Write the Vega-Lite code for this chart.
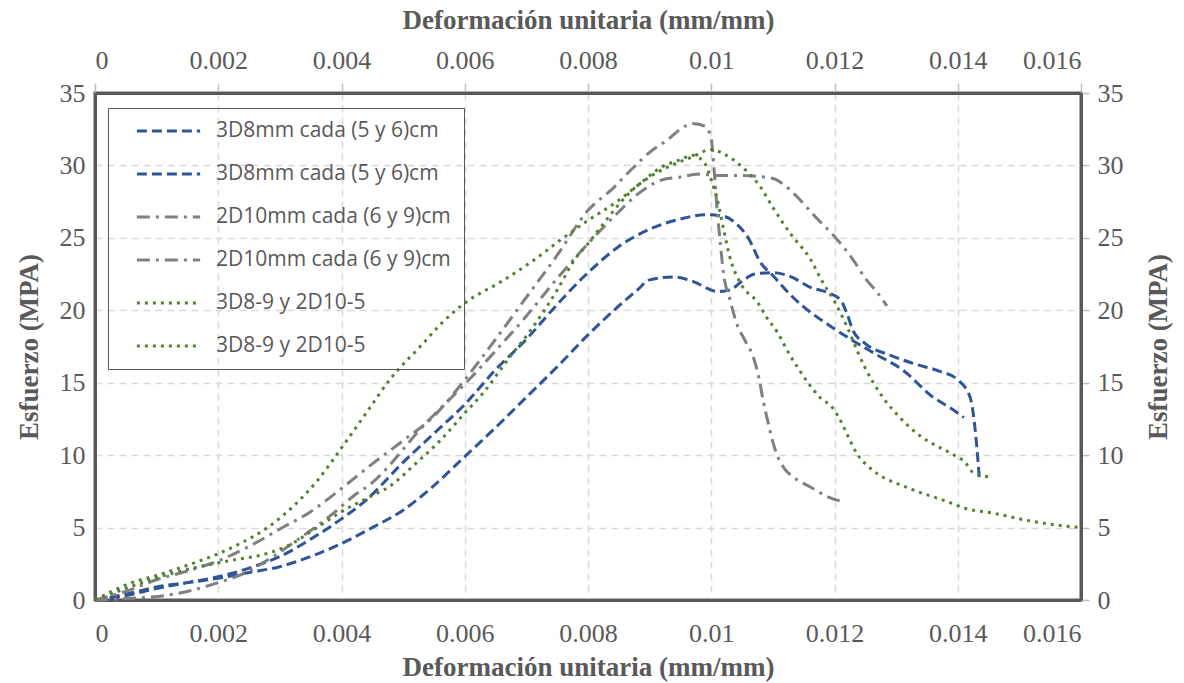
{
  "$schema": "https://vega.github.io/schema/vega-lite/v6.json",
  "autosize": {"type": "none"},
  "width": 986,
  "height": 507,
  "padding": {"left": 95, "top": 93, "right": 103, "bottom": 83},
  "background": "white",
  "config": {
    "view": {"stroke": "#595959", "strokeWidth": 3},
    "axis": {
      "labelFont": "Liberation Serif",
      "labelFontSize": 26,
      "labelColor": "#595959",
      "titleFont": "Liberation Serif",
      "titleFontSize": 27,
      "titleFontWeight": "bold",
      "titleColor": "#595959",
      "domain": true,
      "domainColor": "#595959",
      "domainWidth": 3,
      "tickColor": "#BFBFBF",
      "tickWidth": 1.5
    }
  },
  "datasets": {
    "curves": [
      {"s": "s1", "x": 0, "y": 0}, {"s": "s1", "x": 0.0005, "y": 0.3}, {"s": "s1", "x": 0.001, "y": 0.8}, {"s": "s1", "x": 0.0015, "y": 1.2}, {"s": "s1", "x": 0.002, "y": 1.6}, {"s": "s1", "x": 0.0025, "y": 2.2}, {"s": "s1", "x": 0.003, "y": 3.0}, {"s": "s1", "x": 0.0035, "y": 4.2}, {"s": "s1", "x": 0.004, "y": 5.6}, {"s": "s1", "x": 0.0044, "y": 6.9}, {"s": "s1", "x": 0.005, "y": 9.5}, {"s": "s1", "x": 0.0055, "y": 11.5}, {"s": "s1", "x": 0.006, "y": 13.5}, {"s": "s1", "x": 0.0065, "y": 15.9}, {"s": "s1", "x": 0.007, "y": 18.0}, {"s": "s1", "x": 0.0075, "y": 20.4}, {"s": "s1", "x": 0.008, "y": 22.6}, {"s": "s1", "x": 0.0085, "y": 24.4}, {"s": "s1", "x": 0.009, "y": 25.6}, {"s": "s1", "x": 0.0095, "y": 26.3}, {"s": "s1", "x": 0.0099, "y": 26.6}, {"s": "s1", "x": 0.0102, "y": 26.5}, {"s": "s1", "x": 0.0104, "y": 26.0}, {"s": "s1", "x": 0.0106, "y": 25.0}, {"s": "s1", "x": 0.0108, "y": 23.3}, {"s": "s1", "x": 0.011, "y": 22.4}, {"s": "s1", "x": 0.0113, "y": 21.0}, {"s": "s1", "x": 0.0116, "y": 19.9}, {"s": "s1", "x": 0.0119, "y": 19.0}, {"s": "s1", "x": 0.0123, "y": 17.9}, {"s": "s1", "x": 0.0127, "y": 16.9}, {"s": "s1", "x": 0.0131, "y": 15.9}, {"s": "s1", "x": 0.0136, "y": 14.0}, {"s": "s1", "x": 0.0139, "y": 13.2}, {"s": "s1", "x": 0.0141, "y": 12.6},

      {"s": "s2", "x": 0, "y": 0}, {"s": "s2", "x": 0.0005, "y": 0.4}, {"s": "s2", "x": 0.001, "y": 0.9}, {"s": "s2", "x": 0.0015, "y": 1.2}, {"s": "s2", "x": 0.002, "y": 1.5}, {"s": "s2", "x": 0.0025, "y": 1.9}, {"s": "s2", "x": 0.003, "y": 2.3}, {"s": "s2", "x": 0.0035, "y": 3.0}, {"s": "s2", "x": 0.004, "y": 3.9}, {"s": "s2", "x": 0.0045, "y": 5.0}, {"s": "s2", "x": 0.005, "y": 6.2}, {"s": "s2", "x": 0.0055, "y": 7.9}, {"s": "s2", "x": 0.006, "y": 9.9}, {"s": "s2", "x": 0.0065, "y": 11.9}, {"s": "s2", "x": 0.007, "y": 14.0}, {"s": "s2", "x": 0.0075, "y": 16.1}, {"s": "s2", "x": 0.008, "y": 18.3}, {"s": "s2", "x": 0.0085, "y": 20.3}, {"s": "s2", "x": 0.0088, "y": 21.4}, {"s": "s2", "x": 0.009, "y": 22.1}, {"s": "s2", "x": 0.0094, "y": 22.3}, {"s": "s2", "x": 0.0097, "y": 22.0}, {"s": "s2", "x": 0.0101, "y": 21.3}, {"s": "s2", "x": 0.0103, "y": 21.4}, {"s": "s2", "x": 0.0105, "y": 22.0}, {"s": "s2", "x": 0.0107, "y": 22.5}, {"s": "s2", "x": 0.011, "y": 22.6}, {"s": "s2", "x": 0.0113, "y": 22.3}, {"s": "s2", "x": 0.0116, "y": 21.6}, {"s": "s2", "x": 0.0119, "y": 21.2}, {"s": "s2", "x": 0.0121, "y": 20.7}, {"s": "s2", "x": 0.0122, "y": 19.8}, {"s": "s2", "x": 0.0123, "y": 18.6}, {"s": "s2", "x": 0.0125, "y": 17.7}, {"s": "s2", "x": 0.0129, "y": 16.9}, {"s": "s2", "x": 0.0133, "y": 16.3}, {"s": "s2", "x": 0.0137, "y": 15.8}, {"s": "s2", "x": 0.014, "y": 15.2}, {"s": "s2", "x": 0.0142, "y": 14.0}, {"s": "s2", "x": 0.0143, "y": 11.0}, {"s": "s2", "x": 0.01435, "y": 8.4},

      {"s": "s3", "x": 0, "y": 0}, {"s": "s3", "x": 0.0005, "y": 0.6}, {"s": "s3", "x": 0.001, "y": 1.4}, {"s": "s3", "x": 0.0015, "y": 2.0}, {"s": "s3", "x": 0.002, "y": 2.7}, {"s": "s3", "x": 0.0025, "y": 3.7}, {"s": "s3", "x": 0.003, "y": 4.9}, {"s": "s3", "x": 0.0035, "y": 6.1}, {"s": "s3", "x": 0.004, "y": 7.7}, {"s": "s3", "x": 0.0045, "y": 9.4}, {"s": "s3", "x": 0.005, "y": 11.0}, {"s": "s3", "x": 0.0055, "y": 12.7}, {"s": "s3", "x": 0.006, "y": 15.2}, {"s": "s3", "x": 0.0065, "y": 18.0}, {"s": "s3", "x": 0.007, "y": 20.9}, {"s": "s3", "x": 0.0075, "y": 23.8}, {"s": "s3", "x": 0.008, "y": 26.9}, {"s": "s3", "x": 0.0084, "y": 28.4}, {"s": "s3", "x": 0.0087, "y": 29.7}, {"s": "s3", "x": 0.009, "y": 30.9}, {"s": "s3", "x": 0.0093, "y": 31.8}, {"s": "s3", "x": 0.0095, "y": 32.5}, {"s": "s3", "x": 0.0097, "y": 32.9}, {"s": "s3", "x": 0.0099, "y": 32.7}, {"s": "s3", "x": 0.01, "y": 31.8}, {"s": "s3", "x": 0.01005, "y": 29.5}, {"s": "s3", "x": 0.0101, "y": 26.7}, {"s": "s3", "x": 0.01015, "y": 24.5}, {"s": "s3", "x": 0.0102, "y": 22.5}, {"s": "s3", "x": 0.0103, "y": 20.8}, {"s": "s3", "x": 0.01042, "y": 19.0}, {"s": "s3", "x": 0.01055, "y": 17.9}, {"s": "s3", "x": 0.01068, "y": 16.8}, {"s": "s3", "x": 0.01078, "y": 15.2}, {"s": "s3", "x": 0.01085, "y": 13.6}, {"s": "s3", "x": 0.01092, "y": 12.3}, {"s": "s3", "x": 0.011, "y": 10.9}, {"s": "s3", "x": 0.01108, "y": 9.9}, {"s": "s3", "x": 0.0112, "y": 9.0}, {"s": "s3", "x": 0.01133, "y": 8.5}, {"s": "s3", "x": 0.01165, "y": 7.7}, {"s": "s3", "x": 0.0119, "y": 7.1}, {"s": "s3", "x": 0.01212, "y": 6.8},

      {"s": "s4", "x": 0, "y": 0}, {"s": "s4", "x": 0.0005, "y": 0.1}, {"s": "s4", "x": 0.0009, "y": 0.2}, {"s": "s4", "x": 0.0012, "y": 0.35}, {"s": "s4", "x": 0.0016, "y": 0.7}, {"s": "s4", "x": 0.002, "y": 1.2}, {"s": "s4", "x": 0.0024, "y": 1.8}, {"s": "s4", "x": 0.0027, "y": 2.5}, {"s": "s4", "x": 0.003, "y": 3.3}, {"s": "s4", "x": 0.0033, "y": 4.2}, {"s": "s4", "x": 0.0036, "y": 5.1}, {"s": "s4", "x": 0.0039, "y": 6.1}, {"s": "s4", "x": 0.0042, "y": 7.2}, {"s": "s4", "x": 0.0045, "y": 8.1}, {"s": "s4", "x": 0.0048, "y": 9.4}, {"s": "s4", "x": 0.005, "y": 10.4}, {"s": "s4", "x": 0.0053, "y": 11.9}, {"s": "s4", "x": 0.0056, "y": 13.2}, {"s": "s4", "x": 0.006, "y": 14.9}, {"s": "s4", "x": 0.0065, "y": 17.2}, {"s": "s4", "x": 0.007, "y": 19.6}, {"s": "s4", "x": 0.0075, "y": 22.2}, {"s": "s4", "x": 0.008, "y": 24.6}, {"s": "s4", "x": 0.0085, "y": 26.8}, {"s": "s4", "x": 0.0088, "y": 28.0}, {"s": "s4", "x": 0.0092, "y": 29.0}, {"s": "s4", "x": 0.0095, "y": 29.2}, {"s": "s4", "x": 0.0098, "y": 29.4}, {"s": "s4", "x": 0.0101, "y": 29.3}, {"s": "s4", "x": 0.0105, "y": 29.3}, {"s": "s4", "x": 0.011, "y": 29.1}, {"s": "s4", "x": 0.0112, "y": 28.6}, {"s": "s4", "x": 0.0114, "y": 27.8}, {"s": "s4", "x": 0.0117, "y": 26.4}, {"s": "s4", "x": 0.012, "y": 25.1}, {"s": "s4", "x": 0.0123, "y": 23.5}, {"s": "s4", "x": 0.0125, "y": 22.2}, {"s": "s4", "x": 0.0127, "y": 21.2}, {"s": "s4", "x": 0.01285, "y": 20.3},

      {"s": "s5", "x": 0, "y": 0}, {"s": "s5", "x": 0.0006, "y": 1.2}, {"s": "s5", "x": 0.001, "y": 1.7}, {"s": "s5", "x": 0.0015, "y": 2.4}, {"s": "s5", "x": 0.002, "y": 3.2}, {"s": "s5", "x": 0.0024, "y": 4.0}, {"s": "s5", "x": 0.0028, "y": 5.0}, {"s": "s5", "x": 0.0032, "y": 6.4}, {"s": "s5", "x": 0.0036, "y": 8.2}, {"s": "s5", "x": 0.004, "y": 10.5}, {"s": "s5", "x": 0.0044, "y": 12.9}, {"s": "s5", "x": 0.0048, "y": 15.3}, {"s": "s5", "x": 0.0053, "y": 17.6}, {"s": "s5", "x": 0.0056, "y": 19.0}, {"s": "s5", "x": 0.006, "y": 20.5}, {"s": "s5", "x": 0.0066, "y": 22.0}, {"s": "s5", "x": 0.0071, "y": 23.4}, {"s": "s5", "x": 0.0076, "y": 25.0}, {"s": "s5", "x": 0.008, "y": 26.2}, {"s": "s5", "x": 0.0085, "y": 27.6}, {"s": "s5", "x": 0.0088, "y": 28.6}, {"s": "s5", "x": 0.0092, "y": 29.9}, {"s": "s5", "x": 0.0095, "y": 30.4}, {"s": "s5", "x": 0.0097, "y": 30.7}, {"s": "s5", "x": 0.0099, "y": 30.1}, {"s": "s5", "x": 0.01, "y": 29.0}, {"s": "s5", "x": 0.0101, "y": 27.6}, {"s": "s5", "x": 0.0102, "y": 25.6}, {"s": "s5", "x": 0.0103, "y": 23.7}, {"s": "s5", "x": 0.01047, "y": 21.9}, {"s": "s5", "x": 0.01076, "y": 20.5}, {"s": "s5", "x": 0.0109, "y": 19.5}, {"s": "s5", "x": 0.01107, "y": 18.5}, {"s": "s5", "x": 0.01125, "y": 17.1}, {"s": "s5", "x": 0.01141, "y": 16.0}, {"s": "s5", "x": 0.01157, "y": 15.0}, {"s": "s5", "x": 0.01176, "y": 14.0}, {"s": "s5", "x": 0.01198, "y": 13.2}, {"s": "s5", "x": 0.01212, "y": 12.2}, {"s": "s5", "x": 0.01222, "y": 11.3}, {"s": "s5", "x": 0.01238, "y": 10.0}, {"s": "s5", "x": 0.01258, "y": 9.1}, {"s": "s5", "x": 0.01282, "y": 8.4}, {"s": "s5", "x": 0.0131, "y": 7.9}, {"s": "s5", "x": 0.01334, "y": 7.5}, {"s": "s5", "x": 0.01376, "y": 6.9}, {"s": "s5", "x": 0.01415, "y": 6.3}, {"s": "s5", "x": 0.01457, "y": 6.0}, {"s": "s5", "x": 0.01512, "y": 5.5}, {"s": "s5", "x": 0.01555, "y": 5.2}, {"s": "s5", "x": 0.016, "y": 5.0},

      {"s": "s6", "x": 0, "y": 0}, {"s": "s6", "x": 0.0005, "y": 0.8}, {"s": "s6", "x": 0.0009, "y": 1.4}, {"s": "s6", "x": 0.0013, "y": 1.9}, {"s": "s6", "x": 0.0018, "y": 2.4}, {"s": "s6", "x": 0.0023, "y": 2.8}, {"s": "s6", "x": 0.0027, "y": 3.1}, {"s": "s6", "x": 0.0032, "y": 3.9}, {"s": "s6", "x": 0.0036, "y": 5.0}, {"s": "s6", "x": 0.004, "y": 6.1}, {"s": "s6", "x": 0.0044, "y": 7.0}, {"s": "s6", "x": 0.0048, "y": 7.9}, {"s": "s6", "x": 0.0052, "y": 9.4}, {"s": "s6", "x": 0.0056, "y": 11.0}, {"s": "s6", "x": 0.006, "y": 12.9}, {"s": "s6", "x": 0.0063, "y": 14.3}, {"s": "s6", "x": 0.0067, "y": 16.6}, {"s": "s6", "x": 0.0071, "y": 18.8}, {"s": "s6", "x": 0.0075, "y": 21.4}, {"s": "s6", "x": 0.0078, "y": 23.6}, {"s": "s6", "x": 0.008, "y": 24.6}, {"s": "s6", "x": 0.0082, "y": 25.7}, {"s": "s6", "x": 0.0085, "y": 27.3}, {"s": "s6", "x": 0.0088, "y": 28.6}, {"s": "s6", "x": 0.009, "y": 29.2}, {"s": "s6", "x": 0.0093, "y": 29.9}, {"s": "s6", "x": 0.0097, "y": 30.6}, {"s": "s6", "x": 0.01, "y": 31.1}, {"s": "s6", "x": 0.0102, "y": 30.8}, {"s": "s6", "x": 0.0105, "y": 29.9}, {"s": "s6", "x": 0.0108, "y": 28.5}, {"s": "s6", "x": 0.011, "y": 27.1}, {"s": "s6", "x": 0.0113, "y": 25.2}, {"s": "s6", "x": 0.0116, "y": 23.6}, {"s": "s6", "x": 0.0118, "y": 22.0}, {"s": "s6", "x": 0.012, "y": 20.6}, {"s": "s6", "x": 0.0122, "y": 18.9}, {"s": "s6", "x": 0.01238, "y": 17.1}, {"s": "s6", "x": 0.0125, "y": 16.0}, {"s": "s6", "x": 0.01263, "y": 15.0}, {"s": "s6", "x": 0.0128, "y": 13.9}, {"s": "s6", "x": 0.01306, "y": 12.6}, {"s": "s6", "x": 0.0134, "y": 11.3}, {"s": "s6", "x": 0.01363, "y": 10.7}, {"s": "s6", "x": 0.0139, "y": 10.1}, {"s": "s6", "x": 0.01412, "y": 9.5}, {"s": "s6", "x": 0.01425, "y": 8.8}, {"s": "s6", "x": 0.0145, "y": 8.5}
    ]
  },
  "data": {"name": "curves"},
  "layer": [
    {
      "mark": {"type": "line", "interpolate": "monotone", "strokeWidth": 3},
      "encoding": {
        "x": {
          "field": "x", "type": "quantitative",
          "scale": {"domain": [0, 0.016], "nice": false, "zero": false},
          "axis": {
            "orient": "bottom",
            "title": "Deformación unitaria (mm/mm)",
            "values": [0, 0.002, 0.004, 0.006, 0.008, 0.01, 0.012, 0.014, 0.016],
            "format": "~g",
            "grid": true, "gridColor": "#D9D9D9", "gridDash": [7, 5], "gridWidth": 1.5,
            "ticks": true, "tickSize": 0,
            "labelPadding": 20,
            "titlePadding": 8
          }
        },
        "y": {
          "field": "y", "type": "quantitative",
          "scale": {"domain": [0, 35], "nice": false},
          "axis": {
            "orient": "left",
            "title": "Esfuerzo (MPA)",
            "values": [0, 5, 10, 15, 20, 25, 30, 35],
            "grid": true, "gridColor": "#D9D9D9", "gridDash": [7, 5], "gridWidth": 1.5,
            "ticks": false,
            "labelPadding": 10,
            "titlePadding": 16
          }
        },
        "color": {
          "field": "s", "type": "nominal",
          "scale": {
            "domain": ["s1", "s2", "s3", "s4", "s5", "s6"],
            "range": ["#2F5597", "#2F5597", "#808080", "#808080", "#548235", "#548235"]
          },
          "legend": {
            "title": null,
            "orient": "none",
            "legendX": 13,
            "legendY": 15,
            "labelExpr": "datum.value == 's1' || datum.value == 's2' ? '3D8mm cada (5 y 6)cm' : (datum.value == 's3' || datum.value == 's4' ? '2D10mm cada (6 y 9)cm' : '3D8-9 y 2D10-5')",
            "labelFont": "Open Sans",
            "labelFontSize": 21,
            "labelColor": "#595959",
            "labelLimit": 400,
            "symbolType": "stroke",
            "symbolSize": 4000,
            "symbolStrokeWidth": 3,
            "symbolOffset": 14,
            "clipHeight": 20,
            "rowPadding": 22,
            "labelOffset": 14,
            "padding": 13,
            "strokeColor": "#595959"
          }
        },
        "strokeDash": {
          "field": "s", "type": "nominal",
          "scale": {
            "domain": ["s1", "s2", "s3", "s4", "s5", "s6"],
            "range": [[10, 5], [10, 5], [13, 6, 3, 6], [13, 6, 3, 6], [3, 5], [3, 5]]
          },
          "legend": null
        }
      }
    },
    {
      "mark": {"type": "line", "strokeOpacity": 0},
      "encoding": {
        "detail": {"field": "s"},
        "x": {
          "field": "x", "type": "quantitative",
          "axis": {
            "orient": "top",
            "title": "Deformación unitaria (mm/mm)",
            "values": [0, 0.002, 0.004, 0.006, 0.008, 0.01, 0.012, 0.014, 0.016],
            "format": "~g",
            "grid": false,
            "tickSize": 10,
            "labelPadding": 10,
            "titlePadding": 13
          }
        },
        "y": {
          "field": "y", "type": "quantitative",
          "axis": {
            "orient": "right",
            "title": "Esfuerzo (MPA)",
            "titleAngle": 270,
            "values": [0, 5, 10, 15, 20, 25, 30, 35],
            "grid": false,
            "tickSize": 8,
            "labelPadding": 8,
            "titlePadding": 49
          }
        }
      }
    }
  ],
  "resolve": {"axis": {"x": "independent", "y": "independent"}}
}
